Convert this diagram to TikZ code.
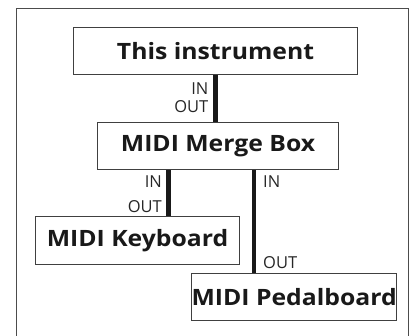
\documentclass[tikz,border=0pt]{standalone}
\usepackage{fontspec}
\setmainfont{Open Sans}[BoldFeatures={FakeStretch=1.1}]
\begin{document}
\begin{tikzpicture}[x=1pt,y=-1pt,
  box/.style={draw=black!75,line width=1.1pt,fill=white,inner sep=0pt,anchor=north west,font=\bfseries\fontsize{22.5}{26}\selectfont,text=black!90},
  conn/.style={line width=4.5pt,draw=black!90},
  lbl/.style={inner sep=0pt,font=\fontsize{16.5}{19}\selectfont,text=black!85},
  frame/.style={draw=black!70,line width=1pt}]
\useasboundingbox (0,0) rectangle (417,336);
\draw[frame] (16.5,340) -- (16.5,8.5) -- (408,8.5) -- (408,340);
\node[box,minimum width=284pt,minimum height=47pt] (top) at (73,27) {This instrument};
\node[box,minimum width=241pt,minimum height=47pt] (merge) at (97,122) {MIDI Merge Box};
\node[box,minimum width=204pt,minimum height=48pt] (kb) at (35,216) {MIDI Keyboard};
\node[box,minimum width=204pt,minimum height=47pt] (pb) at (191,273) {MIDI Pedalboard};
\draw[conn] (top.south) -- (top.south |- merge.north);
\coordinate (kbc) at ([xshift=31pt]kb.north);
\coordinate (pbc) at ([xshift=-40pt]pb.north);
\draw[conn] (kbc |- merge.south) -- (kbc);
\draw[conn] (pbc |- merge.south) -- (pbc);
\node[lbl,anchor=base east] (in1) at (208.5,94.7) {IN};
\node[lbl,anchor=base east] (out1) at (208.5,112.7) {OUT};
\node[lbl,anchor=base east] (in2) at (162,187.7) {IN};
\node[lbl,anchor=base east] (out2) at (162,212.3) {OUT};
\node[lbl,anchor=base west] (in3) at (263,187.7) {IN};
\node[lbl,anchor=base west] (out3) at (263,269) {OUT};
\end{tikzpicture}
\end{document}
